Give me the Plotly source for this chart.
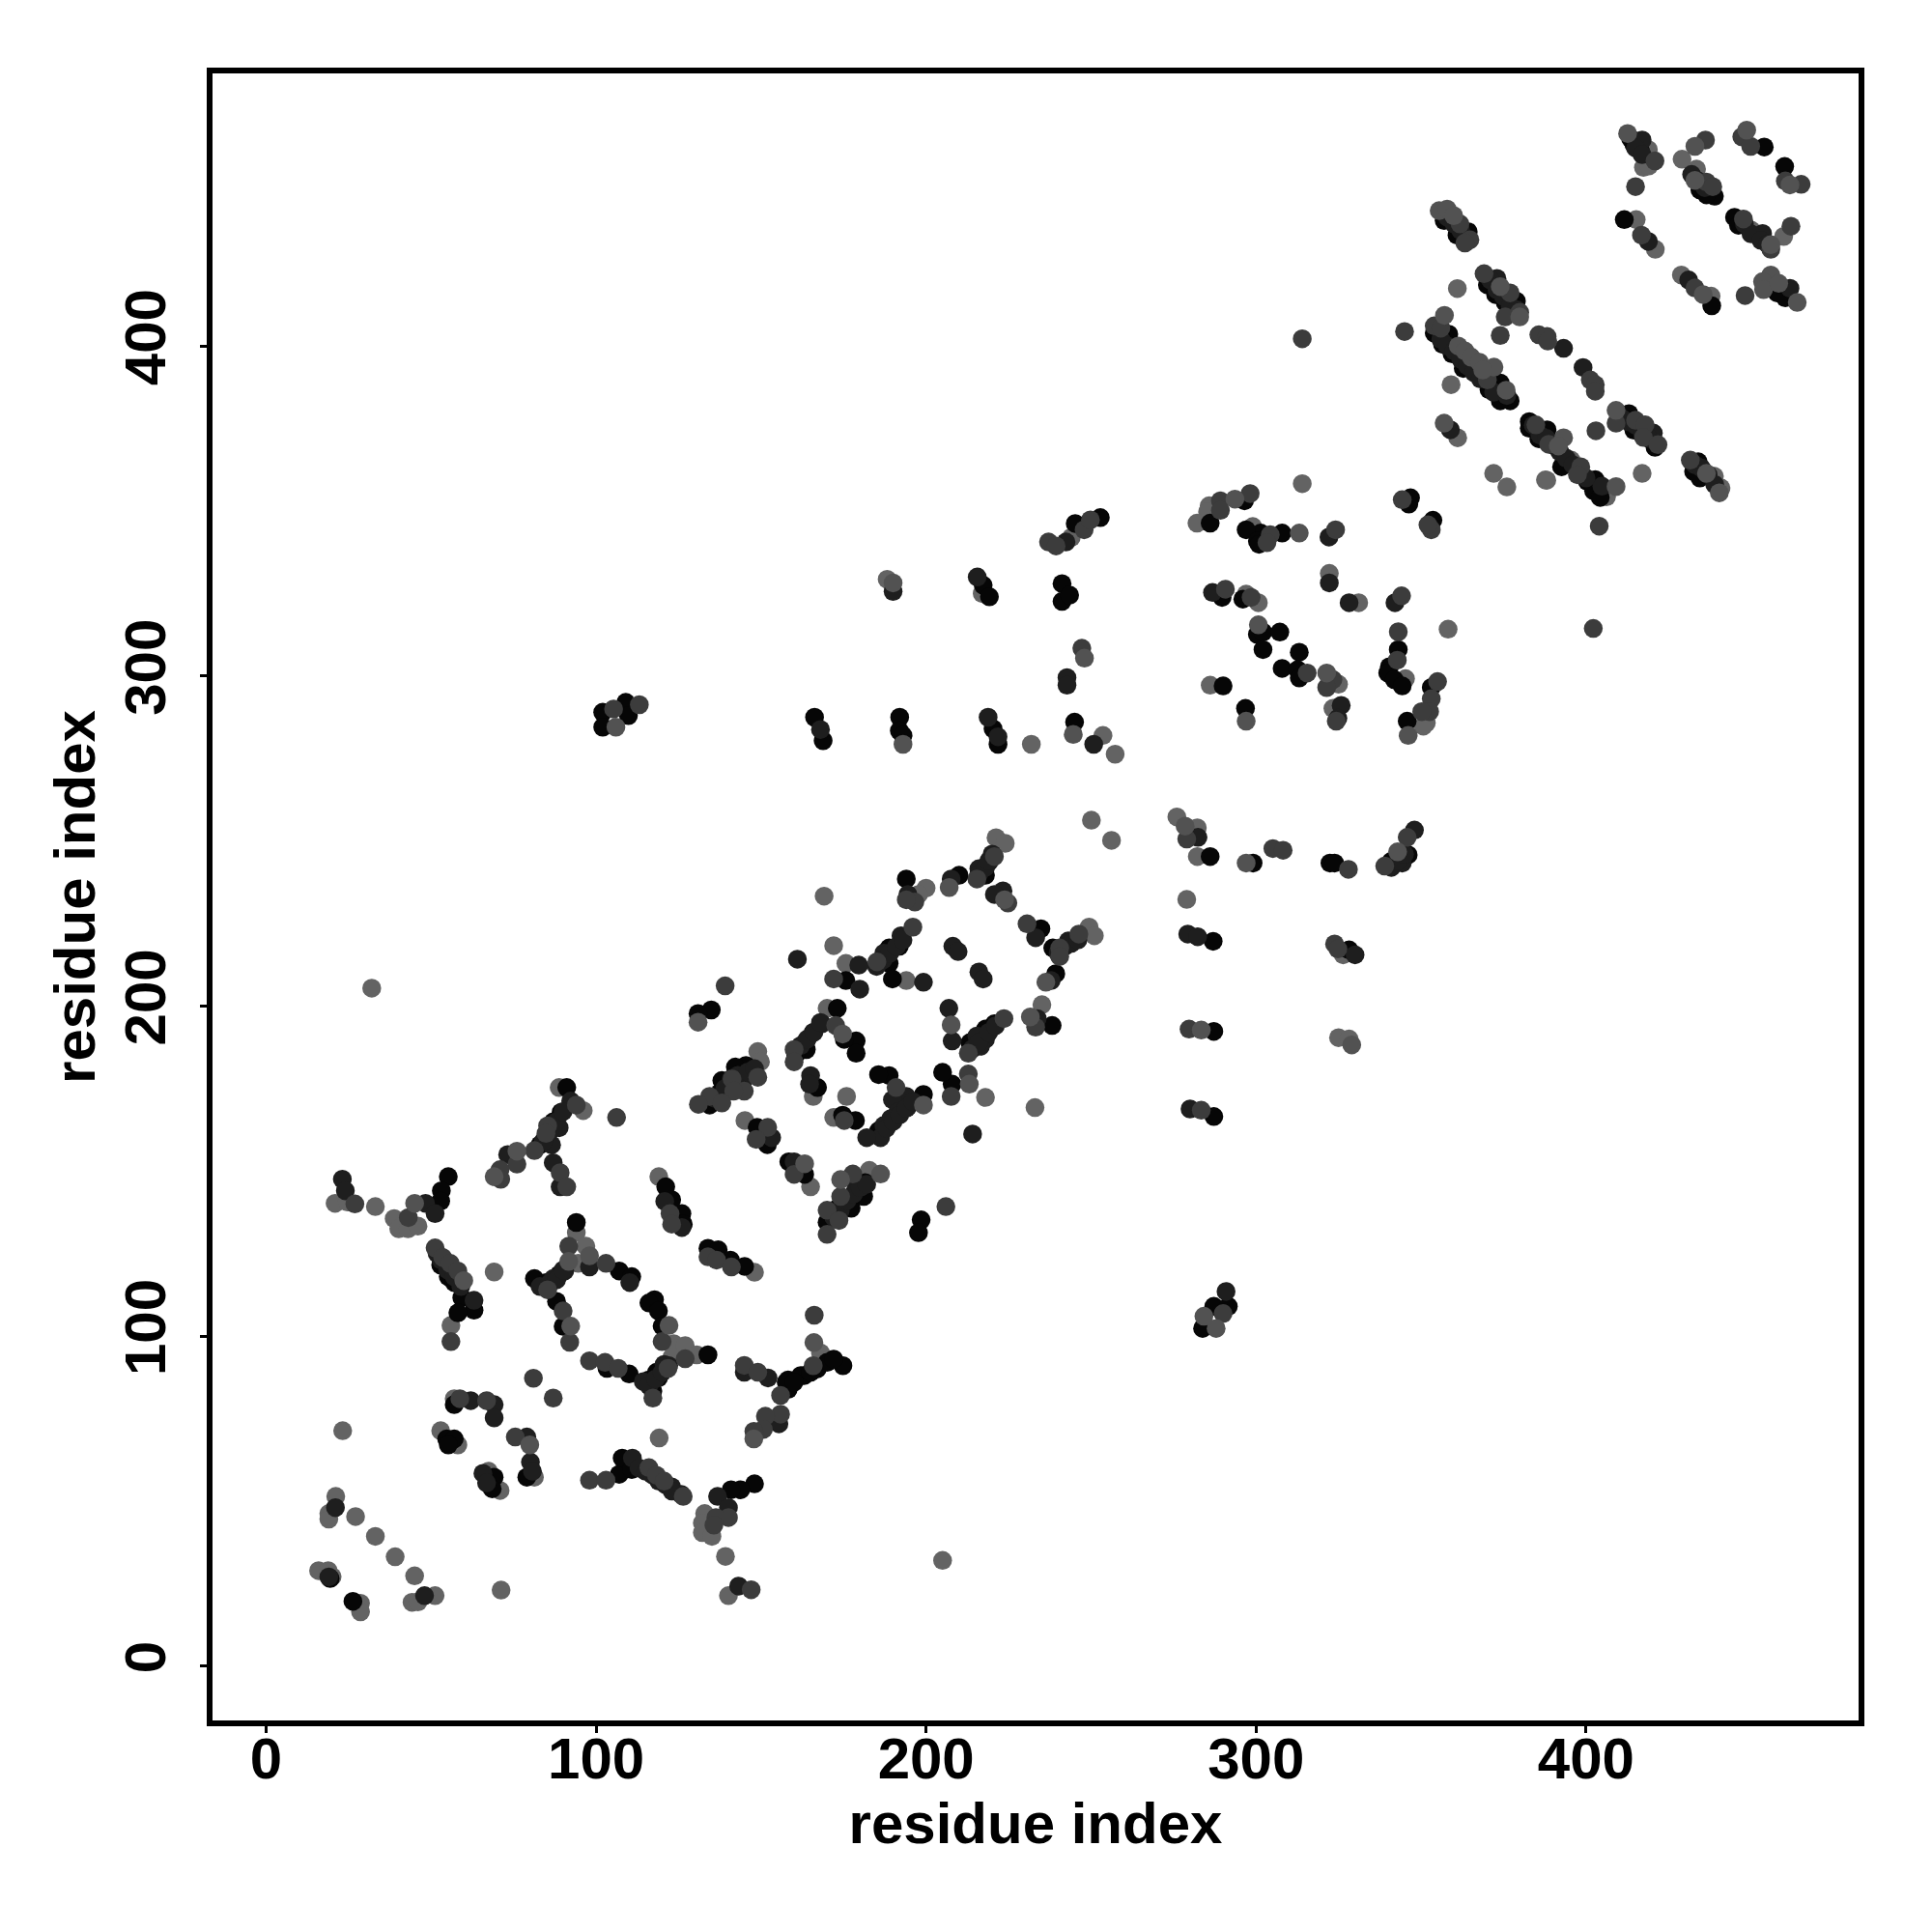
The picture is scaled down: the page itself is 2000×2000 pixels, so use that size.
import plotly.graph_objects as go

tick_values = [0, 100, 200, 300, 400]
axis_title = "residue index"

gray_contacts = [
(21.1,51.4),(19,46.2),(19,44.5),(27.1,45.3),(33.1,39.3),(39.1,33.1),(45,27.3),(15.9,28.9),(18.8,28.9),(20,27.1),
(28.6,19),(28.6,16.4),(44.2,19.3),(46,19.4),(51.2,21.3),(71.2,23),(23.2,71.3),(52.9,71.3),(58.1,67),(57,81),
(81.3,57.2),(67.4,59),(70.9,53.2),(119.1,69.1),(132.9,46.2),(132.2,43.3),(132.2,40.4),(135.1,39.3),(139.2,33.2),(140.1,21.3),
(205,32),(20.9,140.2),(24.6,140.6),(33.1,139.2),(38.8,135.6),(40.2,132.5),(43,132.5),(46,133.3),(56,103.2),(69.1,119.4),
(94,131.3),(96.9,127.2),(94.6,122),(123.5,97.7),(127,97.1),(123,93.7),(130.5,94.3),(88.8,175.3),(96.1,168.3),
(250.1,256.3),(256.2,250.2),(221.2,251),(224,249.3),(200,235.7),(197.7,233.8),(169.1,233.3),(194,207.7),(172,218.3),(175.7,212.9),
(249.4,223.9),(251,221.3),(235.1,200.4),(218,172.3),(233,169.2),(175.9,172.6),(172,166.2),(165.8,172.6),(170,199.3),(149,186.2),(149.8,183.1),
(145.1,165.3),(165,145.2),(182.8,150.2),(119,148.3),(148,119.3),(32,205.4),(168,94.9),
(372,361.4),(376,357.3),(387.7,359.4),(314,358.3),(285.8,351.6),(285.3,349.7),(282.1,346.3),(299,345.3),(322.2,331.1),(331.1,322.2),
(358.2,314.2),(345.3,299.2),(351.6,285.8),(350.7,284.8),(297,324.8),(300.7,322.2),(325,297.5),(323.3,290.2),(286.1,297.2),
(276,257.3),(282.2,254),(282.2,245.3),(279,232.3),(326.4,215.5),(325,190.4),(328.2,190),(231.9,279.3),(253.6,282),(257.3,276.3),
(188.2,329.3),(217,325),(244,342),
(418.9,459.5),(417.4,454.1),(419.1,454.6),(429.1,456.6),(433.5,453.6),(415.2,438.3),(421,429.3),(450.1,435.1),(459.9,433.2),(428.9,421.5),(437.9,415.1),
(361,417.4),(359.1,388.3),(361.1,372.2),(388.1,359.3),(417,361.4),(438.9,360.5),(440.9,357),(393.5,364.3),(395.5,365.4),(406.2,354.3),
]

graymid_contacts = [
(45,140.2),(79.9,67),(59.9,116.8),(98,124.3),(91.7,122.6),(92.3,103),(122.1,103.2),(76,156),(69.1,148.3),(147.8,68.8),
(207,235.9),(223.8,232.2),(236.3,207.2),(231.6,196.7),(207.6,194.3),(213.1,176.3),(199.2,170),(174.7,191.5),(130.9,195.1),(163.2,152.2),
(186.2,149.1),(174.1,147.4),(166,98),(278.5,254.5),(293.6,353.6),(313.1,343.3),(321.4,300.9),(300.7,315.5),(297,286.3),(346.1,282),
(297,243.3),(342.9,246.7),(283.4,192.7),(329,188.2),(284.2,106),(287.9,102.3),(193,279.3),(244.6,282.3),(106,284.5),(190,328.2),(248,305.4),
(412.6,464.4),(448.7,465.4),(433,460.5),(433,450.2),(456,430.7),(435.5,415.6),(456,421.5),(453.5,419.5),(453.8,417.1),(458.4,419),(464,413.2),
(461.8,448.8),(355.5,441),(357.9,441.5),(359.9,439.5),(374,418),(379.9,408.8),(357.1,409.3),(361.3,400),(363.3,398.5),(365.2,396.6),(367.7,395.1),
(372.1,393.6),(368.7,392.7),(375.8,386.6),(357,376.6),(393.2,372.2),(391.6,369.7),(409.1,357.4),(409.1,380.5),(436.5,361.4),(440.4,355.5),
]

mid_contacts = [
(26.9,140),(43.1,135.9),(51.2,126.7),(53.5,123.8),(55.8,122),(58.1,119.7),(56,98.3),(91.7,127.2),(103,122),(85.3,114),
(90,107.6),(92,98.1),(120,98.3),(127,93.1),(117.2,81.2),(121.8,90.2),(98,92.5),(102.7,92),(106.7,90.2),(144.9,91.1),
(149,89),(155.9,82),(155.9,76.3),(151.3,75.7),(150.7,71.7),(147.8,71.1),(81,87.2),(87,81.2),(58.7,81),(66.8,80.4),
(75.5,69.4),(98,56.3),(103,56.3),(116,60.1),(118.3,57.8),(120.6,56),(126.4,51.4),(147,23.1),(140.1,45),(136.3,45),(135.7,42.7),
(94,170),(85.3,163.7),(81.3,156.2),(84.8,161.4),(76,152.1),(70.9,150.4),(71.1,147.5),(89.1,149.5),(91.1,145.2),(106.2,166.2),
(220.7,245.3),(215.4,238.5),(196.6,231.5),(194,232.2),(224.8,231.2),(196,223.9),(185.1,213.4),(172,208.2),(230.6,224.9),(246.3,221.8),
(240.5,217.6),(240.5,215),(233.2,193.6),(223.6,196.2),(212.8,185.7),(212.8,179.4),(207.6,172.6),(190.9,175.3),(175.2,165.3),(172.6,194.1),
(160,186.8),(160,183.1),(149,178.4),(141.2,177.9),(144.9,174.2),(141.7,174.2),(134.4,172.6),(138.1,170.6),(131,170.2),(139.1,206.1),
(152,163.2),(148.5,159.6),(160,149),(177.8,149.1),(174.1,142.3),(170,138.1),(173.6,135),(170,130.8),(206,139.2),(122.4,137.1),
(122.9,133.9),(133.9,124),(136.5,123),(141,120.9),(166.1,106.3),(165.8,91),
(298.2,355.3),(289.2,353.1),(289.2,350.2),(304.3,342.8),(303.3,340.4),(324.1,344.3),(344.3,353.4),(353.1,344.3),(352.1,345.8),(344.1,324.3),
(343.1,313.4),(342.8,304.8),(355,298.3),(353.1,293.1),(352.6,289.2),(350.2,289.2),(290.7,326.3),(298.5,323.8),(315.5,300.9),(323.3,298.9),
(321.4,296.5),(324.3,286.3),(279,250.6),(305.1,247.7),(308.2,247.2),(328,241.4),(345.8,251.1),(339,242.4),(323.8,218.8),(324.8,217.3),
(279.7,193),(283.4,168.4),(290,106.8),(105.3,290),(113.1,291.3),(247.2,308.4),(237.1,340.6),(239.4,339.4),(247.9,344.3),(249.8,347.3),
(314,402.2),(345,404.4),(402.2,314.4),(404,345.4),
(420.9,456.1),(436.2,462.4),(447.2,463.4),(449.9,460.5),(436.5,449.7),(438.4,448.3),(460.4,450),(465.2,449),(416.8,433.6),(447.7,438.5),
(456,429.3),(462.1,436.3),(433,417.6),(448.2,415.3),(415,448.3),(361.8,437),(364.8,432.2),(363.3,431.2),(369.1,421.9),(377,416.1),
(379.9,410.2),(375.5,408.8),(374,403.2),(354,406.1),(356,405.4),(370.1,389.7),(384.8,376.1),(388.7,370.2),(398.4,363.4),(397.4,361),
(403,374.3),(385.7,403.4),(388.2,402.9),(388.4,401.5),(401.3,389.7),(402.8,388.3),(402.8,386.3),(415,377.5),(409.1,376.6),(417.9,376.1),
(417.4,372.3),(421.8,370.1),(431.6,365.4),
]

dark_contacts = [
(21,48),(19,27),(48,21.3),(23.1,147.5),(24,144),(48.3,140.2),(51.2,137.1),(51.8,125),(63,110.8),(87,117.4),(90.5,119.7),(98,120.9),
(110.2,116.2),(114.3,86.2),(120.6,91.4),(144.9,89),(152.1,87.3),(155.4,73.4),(62,80.4),(69.1,79.2),(69.1,75.2),(79,69.4),(80.1,61.8),
(80.7,59),(65.7,58.4),(66.8,55.5),(111,63),(122.9,54.3),(125.8,52),(136.8,51.4),(140.1,48),(143.2,24.2),(92.3,171.2),(88.8,163.1),
(86.5,157.9),(73.2,155),(87,152.5),(89.1,145.2),
(219.1,243.7),(216,241.6),(207.6,238.5),(223.3,234.9),(220.7,233.8),(194.5,233.8),(192.4,221.3),(187.2,216),(199.2,207.2),(161,214.2),
(179.6,212.4),(179.9,205.1),(208.1,218.1),(209.7,216.5),(216,210.3),(217.3,208.2),(233.2,220.7),(243.1,219.7),(237.9,207.7),(233.7,196.2),
(206.9,199.3),(207.9,189.4),(215.4,190.9),(218,189.9),(216.5,187.8),(214.1,161.2),(194,172.6),(194.5,169.5),(189.8,171.6),(191.4,167.9),
(189.3,165.9),(187.2,163.8),(186.2,160.1),(182,160.1),(165,178.9),(164.7,176.3),(168.4,194.6),(144.9,177.9),(153.2,160.1),(160,152.8),
(177.8,147.4),(120.8,140.8),(126,132.9),
(322.1,342.1),(322.2,328.2),(328.2,322.2),(342.1,322.2),(286.8,325.3),(325.8,291.1),(324.8,287.2),(282.4,251.1),(348,253.3),(344.3,243.3),
(279.3,221.8),(282.3,221),(330,215.5),(280,168.8),(290.9,113.5),(168,283.8),(218.8,287.5),(221.8,281.6),(250.8,279.3),(190,325.6),(215.5,330),
(242.7,299.5),(242.7,297.2),(242.4,340.6),
(417,462.4),(418.9,431.7),(453.5,434.1),(431.1,420),(461.8,417.5),(373,420.5),(393.2,399.3),(399.1,393.5),(404.8,357.5),(358.9,374.6),(420.4,373.6),
(356,402),(358,400),(360,398.5),(362,396),(364,394),(366,392),(368,390),(372,386),(376,385),
(371,420),(373,417),(375,415),(377,412),(379,411),
(384,376),(386,373),(388,372),(390,370),(392,368),(394,366),(396,364),(398,362),(400,360),
(411,378),(413,377),(415,376),(417,374),(419,372),(433,364),(435,363),(437,361),(439,358),
(358,439),(360,437),(362,435),(415,460),(417,458),(432,452),(434,450),(436,448),
(448,437),(450,434),(453,432),(455,431),
(136,172),(139,175),(141,178),(143,179),(146,180),(148,181),(162,188),(164,190),(166,192),(168,195),
(172,136),(174,138),(176,141),(178,143),(180,145),(182,146),(185,212),(187,214),(189,216),(191,218),(193,220),
(214,187),(216,189),(219,192),(221,194),(188,163),(190,165),(192,167),(194,169),(196,171),
(216,240),(218,242),(219,244),(220,246),(240,216),(242,218),(244,219),(246,220),
(84,159),(86,162),(88,165),(90,168),(83,115),(86,116),(88,117),(90,120),(116,85),(118,87),(120,89),(122,91),
(53,123),(55,120),(57,118),(59,115),(113,60),(115,59),(117,58),(119,56),(121,55),(123,53),
(341,242),(343,244),(345,246),
]

black_contacts = [
(19.4,26.5),(26.3,19.6),(54.7,68.8),(57,68.8),(55.2,67),(57,79.2),(79,57.2),(69.1,57.2),(68.5,53.7),(107,58.1),(107.9,63),(110.8,59.5),
(148,55.2),(143.8,53.4),(140.9,53.4),(55.2,148.3),(53.1,144),(52.9,140.9),(52.9,121.5),(55.2,118),(57,116.2),(59.3,111.6),(63,107.8),(58.1,107),
(94,134.4),(107,119.7),(110.8,118),(81.3,117.4),(84.8,116.2),(88.8,118.6),(88,110.5),(90,102.9),(117.7,111),(116,110),(118.9,107.6),(120,103),
(133.9,94.3),(118.3,89),(116,86.7),(118.9,87.3),(117.2,83.3),(103.3,90.2),(110,88.5),(158.2,83.8),(158.2,86.7),(163,88),(91.1,175.3),(89.4,167.8),(87,164.9),(83,157.9),
(218,242.2),(218,239.6),(210,239.6),(194,238.5),(191.9,218.1),(188.8,217.6),(188.8,212.9),(189.8,208.2),(175.7,207.7),(234.8,223.4),(238.4,217.6),(239.3,209.8),
(238.2,194.1),(220.7,194.6),(218,193),(213.3,188.9),(207.9,176.3),(205,179.9),(199.2,173.2),(188.8,178.9),(185.6,179.2),(185.6,162.2),(174.7,166.9),(178.6,165.3),
(167.1,175.3),(178.8,189.4),(178.8,185.7),(175.2,189.9),(173.1,199.3),(165.8,192),(163.7,189.4),(163.7,186.8),(160.5,185.2),(145.4,182),(142.2,181.5),(138.1,177.4),
(137.5,173.7),(134.4,170),(134.9,198.8),(130.9,197.7),(148.8,163.2),(151.9,158),(158.4,152.8),(163.2,149),(181.5,146.5),(181.1,142.3),(177.3,138.7),(173.1,138.7),(170,134.5),
(198.5,135.2),(197.7,131.3),(121.1,145.2),(122.9,141.3),(126,137.1),(126.4,133.9),(133.9,126.6),(137,126.1),(140.7,123),(145,121.1),(174.8,91),(162,88),(157.6,86),
(160,86),(165,89),(167,90),(170,92),(172,93),
(346.8,354),(346.3,352.1),(353.6,347.2),(296.5,353.1),(286.1,346.3),(307.9,343.3),(301.4,343.3),(297,344.3),(300.4,340.9),(300.9,339.9),(343.1,308),(340.4,302.8),
(339.9,300.9),(341.9,298.9),(344.3,297),(353.1,296.5),(345.8,286.3),(289.7,323.8),(296,323.3),(300.4,312.6),(302.1,313.3),(307.2,313.3),(302.1,308),(313.1,307.2),
(307.9,302.3),(312.6,301.9),(313.1,299.4),(290,297),(296.8,290.2),(286.1,245.3),(299.1,243.3),(322.4,243.3),(323.8,243.3),(346.1,245.8),(340.9,243.8),(287,219.6),(328.2,217),
(287.2,192.3),(287.2,166.5),(287.2,109),(291.6,109),(283.8,102.3),(166.2,287.5),(168.8,280.4),(192,287.5),(191.9,283.4),(193,282),(220.3,284),(221.8,279.3),(245,286),
(102,289),(102,284.5),(109,292),(109.8,288),(217.3,327.5),(219.2,324),(241.2,328),(241.2,322.6),(243.5,324.5),(245.2,346.2),(252.8,348),
(413.5,462.9),(414.5,461),(416.5,459),(454,460.3),(434.5,447.3),(438.9,445.4),(436.5,445.8),(460.2,454.4),(411.6,438.3),(445,439),(446.2,436.6),(438.1,412.2),(457.9,416.1),(460.4,414.6),
(357,438),(364.3,434.6),(360.9,433.6),(370.1,418.5),(372.6,415.6),(378.9,413.6),(375.5,413.2),(354,403.9),(358.4,403.6),(356.5,400.5),(359.4,397.6),(362.8,393.2),(374,388.8),
(370.6,386.8),(377,383.4),(374,383.4),(382.8,377.1),(382.8,375.1),(388.2,374.6),(385.7,371.9),(392.6,363.4),(402.8,359.5),(400.4,359),(402.3,356.1),(404.3,354.1),(410.1,379.5),
(413,379.5),(414.5,374.5),(420.9,369.3),(434,364.9),(432.6,362),(434.5,360),
]

shades = [
    (gray_contacts, "#636363"),
    (black_contacts, "#060606"),
    (dark_contacts, "#1e1e1e"),
    (mid_contacts, "#3c3c3c"),
    (graymid_contacts, "#525252"),
]

fig = go.Figure()
for contacts, colour in shades:
    fig.add_trace(go.Scatter(
        x=[c[0] for c in contacts], y=[c[1] for c in contacts],
        mode="markers", marker=dict(size=19.5, color=colour, line=dict(width=0)),
        showlegend=False, hoverinfo="skip"))

font = "Liberation Sans"
common = dict(
    tickvals=tick_values, ticks="outside", ticklen=7, tickwidth=3,
    tickcolor="black", showgrid=False, zeroline=False, showline=True, linecolor="black",
    linewidth=6, mirror=True, tickfont=dict(family=font, size=60, color="black", weight="bold"),
)
fig.update_xaxes(**common, range=[-16.25, 482.6], ticklabelstandoff=-25,
                 title=dict(text=f"<b>{axis_title}</b>", font=dict(family=font, size=60, color="black"), standoff=10))
fig.update_yaxes(**common, range=[-16.5, 482.6], tickangle=-90, ticklabelstandoff=12,
                 title=dict(text=f"<b>{axis_title}</b>", font=dict(family=font, size=60, color="black"), standoff=1))
fig.update_layout(
    width=1984, height=1984, autosize=False, showlegend=False,
    paper_bgcolor="white", plot_bgcolor="white",
    margin=dict(l=212, r=68, t=68, b=211, autoexpand=False),
)
fig.write_html("out.html")
